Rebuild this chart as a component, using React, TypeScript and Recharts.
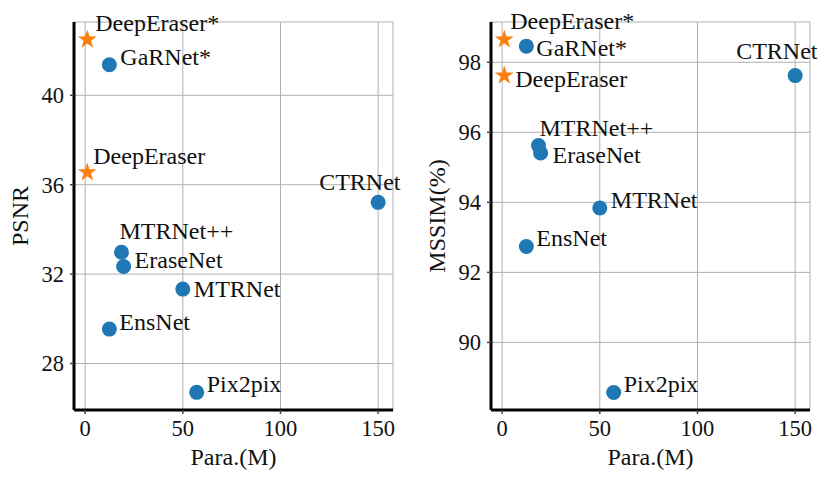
import React from 'react';
import {
  ScatterChart,
  Scatter,
  XAxis,
  YAxis,
  CartesianGrid,
} from 'recharts';

// other methods
const methods = ['GaRNet*', 'CTRNet', 'MTRNet++', 'EraseNet', 'MTRNet', 'EnsNet', 'Pix2pix'];
const params = [12.4, 150, 18.6, 19.7, 50, 12.4, 57.1];
const psnr = [41.37, 35.21, 32.98, 32.34, 31.33, 29.54, 26.71];
const mssim = [98.46, 97.62, 95.62, 95.41, 93.84, 92.74, 88.57];

// ours
const oursNames = ['DeepEraser*', 'DeepEraser'];
const oursParams = [1.1, 1.1];
const oursPsnr = [42.49, 36.55];
const oursMssim = [98.65, 97.62];

const xTicks = [0, 50, 100, 150];
const psnrTicks = [28, 32, 36, 40];
const mssimTicks = [90, 92, 94, 96, 98];

const BLUE = '#1f77b4';
const ORANGE = '#ff7f0e';
const FONT = "'Liberation Serif', 'DejaVu Serif', serif";

// label placement (text left edge / baseline relative to marker)
const psnrOffsets: Record<string, [number, number]> = {
  'DeepEraser*': [8, -9],
  'GaRNet*': [11, 0],
  DeepEraser: [6, -8],
  CTRNet: [-59, -12],
  'MTRNet++': [-2, -13],
  EraseNet: [11, 1],
  MTRNet: [11, 8],
  EnsNet: [10, 1],
  Pix2pix: [10, 0],
};

const mssimOffsets: Record<string, [number, number]> = {
  'DeepEraser*': [6, -11],
  'GaRNet*': [10, 10],
  DeepEraser: [11, 11],
  CTRNet: [-59, -17],
  'MTRNet++': [1, -10],
  EraseNet: [12, 10],
  MTRNet: [11, 0],
  EnsNet: [10, 0],
  Pix2pix: [10, 0],
};

const starPoints = (cx: number, cy: number, R: number) => {
  const r = R * 0.382;
  const pts: string[] = [];
  for (let i = 0; i < 10; i++) {
    const rad = i % 2 === 0 ? R : r;
    const a = -Math.PI / 2 + (i * Math.PI) / 5;
    pts.push(`${cx + rad * Math.cos(a)},${cy + rad * Math.sin(a)}`);
  }
  return pts.join(' ');
};

const textStyle = { fontFamily: FONT };

const makeShape =
  (kind: 'circle' | 'star', offsets: Record<string, [number, number]>) =>
  (props: any) => {
    const { cx, cy, payload } = props;
    const [dx, dy] = offsets[payload.name] || [10, 0];
    return (
      <g>
        {kind === 'circle' ? (
          <circle cx={cx} cy={cy} r={7.5} fill={BLUE} />
        ) : (
          <polygon points={starPoints(cx, cy, 10)} fill={ORANGE} />
        )}
        <text
          x={cx + dx}
          y={cy + dy}
          style={textStyle}
          fontSize={24}
          fill="#111"
        >
          {payload.name}
        </text>
      </g>
    );
  };

const yTitle = (text: string) => (props: any) => {
  const vb = props.viewBox;
  const x = vb.x + vb.width - 46;
  const y = vb.y + vb.height / 2;
  return (
    <text
      x={x}
      y={y}
      transform={`rotate(-90, ${x}, ${y})`}
      textAnchor="middle"
      style={textStyle}
      fontSize={24}
      fill="#111"
    >
      {text}
    </text>
  );
};

const xTitle = (props: any) => {
  const vb = props.viewBox;
  return (
    <text
      x={vb.x + vb.width / 2}
      y={vb.y + 55}
      textAnchor="middle"
      style={textStyle}
      fontSize={24}
      fill="#111"
    >
      Para.(M)
    </text>
  );
};

const tickStyle = { fontSize: 22.5, fill: '#111', style: textStyle };

type PanelProps = {
  values: number[];
  oursValues: number[];
  domain: [number, number];
  ticks: number[];
  title: string;
  offsets: Record<string, [number, number]>;
  left: number;
  marginLeft: number;
  marginRight: number;
};

const Panel = ({
  values,
  oursValues,
  domain,
  ticks,
  title,
  offsets,
  left,
  marginLeft,
  marginRight,
}: PanelProps) => {
  const others = methods.map((name, i) => ({ name, x: params[i], y: values[i] }));
  const ours = oursNames.map((name, i) => ({ name, x: oursParams[i], y: oursValues[i] }));
  return (
    <div style={{ position: 'absolute', left, top: 0 }}>
      <ScatterChart
        width={415}
        height={481}
        margin={{ top: 22, right: marginRight, bottom: 16, left: marginLeft }}
        style={{ overflow: 'visible' }}
      >
        <CartesianGrid stroke="#b0b0b0" strokeWidth={1} />
        <XAxis
          type="number"
          dataKey="x"
          domain={[-5.7, 157.6]}
          ticks={xTicks}
          height={55}
          axisLine={{ stroke: '#000', strokeWidth: 3 }}
          tickLine={{ stroke: '#444', strokeWidth: 1.5 }}
          tickSize={4}
          tickMargin={6}
          tick={tickStyle}
          label={{ content: xTitle }}
        />
        <YAxis
          type="number"
          dataKey="y"
          domain={domain}
          ticks={ticks}
          width={50}
          axisLine={{ stroke: '#000', strokeWidth: 3 }}
          tickLine={{ stroke: '#444', strokeWidth: 1.5 }}
          tickSize={4}
          tickMargin={6}
          tick={tickStyle}
          label={{ content: yTitle(title) }}
        />
        <Scatter
          data={others}
          isAnimationActive={false}
          shape={makeShape('circle', offsets)}
        />
        <Scatter
          data={ours}
          isAnimationActive={false}
          shape={makeShape('star', offsets)}
        />
      </ScatterChart>
    </div>
  );
};

export default function App() {
  return (
    <div
      style={{
        position: 'absolute',
        left: 0,
        top: 0,
        width: 830,
        height: 481,
        background: '#fff',
      }}
    >
      <Panel
        values={psnr}
        oursValues={oursPsnr}
        domain={[25.92, 43.28]}
        ticks={psnrTicks}
        title="PSNR"
        offsets={psnrOffsets}
        left={0}
        marginLeft={24}
        marginRight={22}
      />
      <Panel
        values={mssim}
        oursValues={oursMssim}
        domain={[88.07, 99.15]}
        ticks={mssimTicks}
        title="MSSIM(%)"
        offsets={mssimOffsets}
        left={415}
        marginLeft={26}
        marginRight={20}
      />
    </div>
  );
}
